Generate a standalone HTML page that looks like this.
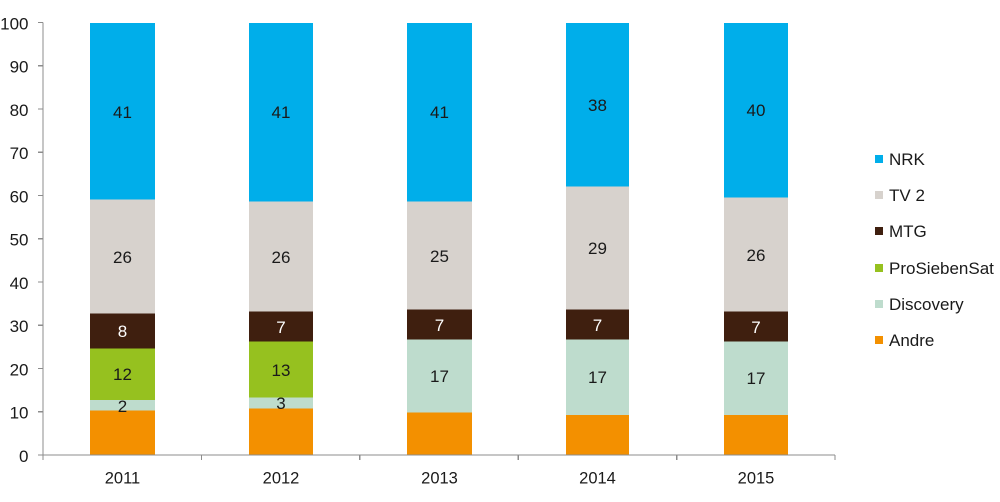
<!DOCTYPE html>
<html><head><meta charset="utf-8"><style>
html,body{margin:0;padding:0;background:#fff;}
svg{display:block;}
text{font-family:"Liberation Sans",Arial,sans-serif;}
</style></head><body>
<svg width="1000" height="502" viewBox="0 0 1000 502" xmlns="http://www.w3.org/2000/svg">
<g shape-rendering="crispEdges">
<rect x="90" y="410.5" width="65" height="44.5" fill="#F39000"/>
<rect x="90" y="400" width="65" height="10.5" fill="#BEDCCD"/>
<rect x="90" y="348.3" width="65" height="51.7" fill="#96C11F"/>
<rect x="90" y="313.7" width="65" height="34.6" fill="#3F1F0F"/>
<rect x="90" y="199.3" width="65" height="114.4" fill="#D7D2CD"/>
<rect x="90" y="23" width="65" height="176.3" fill="#00AEEA"/>
<rect x="249" y="408.3" width="64" height="46.7" fill="#F39000"/>
<rect x="249" y="397.7" width="64" height="10.6" fill="#BEDCCD"/>
<rect x="249" y="341.7" width="64" height="56" fill="#96C11F"/>
<rect x="249" y="311.7" width="64" height="30" fill="#3F1F0F"/>
<rect x="249" y="201.7" width="64" height="110" fill="#D7D2CD"/>
<rect x="249" y="23" width="64" height="178.7" fill="#00AEEA"/>
<rect x="407" y="412.7" width="65" height="42.3" fill="#F39000"/>
<rect x="407" y="339.3" width="65" height="73.4" fill="#BEDCCD"/>
<rect x="407" y="309.3" width="65" height="30" fill="#3F1F0F"/>
<rect x="407" y="201.7" width="65" height="107.6" fill="#D7D2CD"/>
<rect x="407" y="23" width="65" height="178.7" fill="#00AEEA"/>
<rect x="566" y="415" width="63" height="40" fill="#F39000"/>
<rect x="566" y="339.3" width="63" height="75.7" fill="#BEDCCD"/>
<rect x="566" y="309.3" width="63" height="30" fill="#3F1F0F"/>
<rect x="566" y="186.7" width="63" height="122.6" fill="#D7D2CD"/>
<rect x="566" y="23" width="63" height="163.7" fill="#00AEEA"/>
<rect x="724" y="415" width="64" height="40" fill="#F39000"/>
<rect x="724" y="341.7" width="64" height="73.3" fill="#BEDCCD"/>
<rect x="724" y="311.7" width="64" height="30" fill="#3F1F0F"/>
<rect x="724" y="197.3" width="64" height="114.4" fill="#D7D2CD"/>
<rect x="724" y="23" width="64" height="174.3" fill="#00AEEA"/>
</g>
<g stroke="#8c8c8c" stroke-width="1.3" fill="none" shape-rendering="crispEdges">
<line x1="43" y1="22.5" x2="43" y2="455"/>
<line x1="43" y1="455" x2="835" y2="455"/>
<line x1="38" y1="455" x2="43" y2="455"/>
<line x1="38" y1="411.75" x2="43" y2="411.75"/>
<line x1="38" y1="368.5" x2="43" y2="368.5"/>
<line x1="38" y1="325.25" x2="43" y2="325.25"/>
<line x1="38" y1="282" x2="43" y2="282"/>
<line x1="38" y1="238.75" x2="43" y2="238.75"/>
<line x1="38" y1="195.5" x2="43" y2="195.5"/>
<line x1="38" y1="152.25" x2="43" y2="152.25"/>
<line x1="38" y1="109" x2="43" y2="109"/>
<line x1="38" y1="65.75" x2="43" y2="65.75"/>
<line x1="38" y1="22.5" x2="43" y2="22.5"/>
<line x1="43" y1="455" x2="43" y2="460"/>
<line x1="201.4" y1="455" x2="201.4" y2="460"/>
<line x1="359.8" y1="455" x2="359.8" y2="460"/>
<line x1="518.2" y1="455" x2="518.2" y2="460"/>
<line x1="676.6" y1="455" x2="676.6" y2="460"/>
<line x1="835" y1="455" x2="835" y2="460"/>
</g>
<g font-size="17" fill="#1a1a1a" text-anchor="end">
<text x="28.5" y="462">0</text>
<text x="28.5" y="418.5">10</text>
<text x="28.5" y="375.5">20</text>
<text x="28.5" y="332">30</text>
<text x="28.5" y="289">40</text>
<text x="28.5" y="245.5">50</text>
<text x="28.5" y="202.5">60</text>
<text x="28.5" y="159">70</text>
<text x="28.5" y="116">80</text>
<text x="28.5" y="72.5">90</text>
<text x="28.5" y="29.5">100</text>
</g>
<g font-size="16.5" fill="#1a1a1a" text-anchor="middle">
<text x="122.5" y="483.5">2011</text>
<text x="281" y="483.5">2012</text>
<text x="439.5" y="483.5">2013</text>
<text x="597.5" y="483.5">2014</text>
<text x="756" y="483.5">2015</text>
</g>
<g font-size="17" fill="#1a1a1a" text-anchor="middle">
<text x="122.5" y="118">41</text>
<text x="122.5" y="263">26</text>
<text x="122.5" y="337" fill="#fff">8</text>
<text x="122.5" y="380">12</text>
<text x="122.5" y="412">2</text>
<text x="281" y="118">41</text>
<text x="281" y="263">26</text>
<text x="281" y="333" fill="#fff">7</text>
<text x="281" y="376">13</text>
<text x="281" y="409">3</text>
<text x="439.5" y="118">41</text>
<text x="439.5" y="262">25</text>
<text x="439.5" y="331" fill="#fff">7</text>
<text x="439.5" y="382">17</text>
<text x="597.5" y="111">38</text>
<text x="597.5" y="254">29</text>
<text x="597.5" y="331" fill="#fff">7</text>
<text x="597.5" y="383">17</text>
<text x="756" y="116">40</text>
<text x="756" y="261">26</text>
<text x="756" y="333" fill="#fff">7</text>
<text x="756" y="384">17</text>
</g>
<g shape-rendering="crispEdges">
<rect x="875" y="155" width="8" height="8" fill="#00AEEA"/>
<rect x="875" y="191" width="8" height="8" fill="#D7D2CD"/>
<rect x="875" y="227" width="8" height="8" fill="#3F1F0F"/>
<rect x="875" y="264" width="8" height="8" fill="#96C11F"/>
<rect x="875" y="300" width="8" height="8" fill="#BEDCCD"/>
<rect x="875" y="336" width="8" height="8" fill="#F39000"/>
</g>
<g font-size="17" fill="#1a1a1a">
<text x="889" y="165">NRK</text>
<text x="889" y="201">TV 2</text>
<text x="889" y="237">MTG</text>
<text x="889" y="274">ProSiebenSat</text>
<text x="889" y="310">Discovery</text>
<text x="889" y="346">Andre</text>
</g>
</svg>
</body></html>
